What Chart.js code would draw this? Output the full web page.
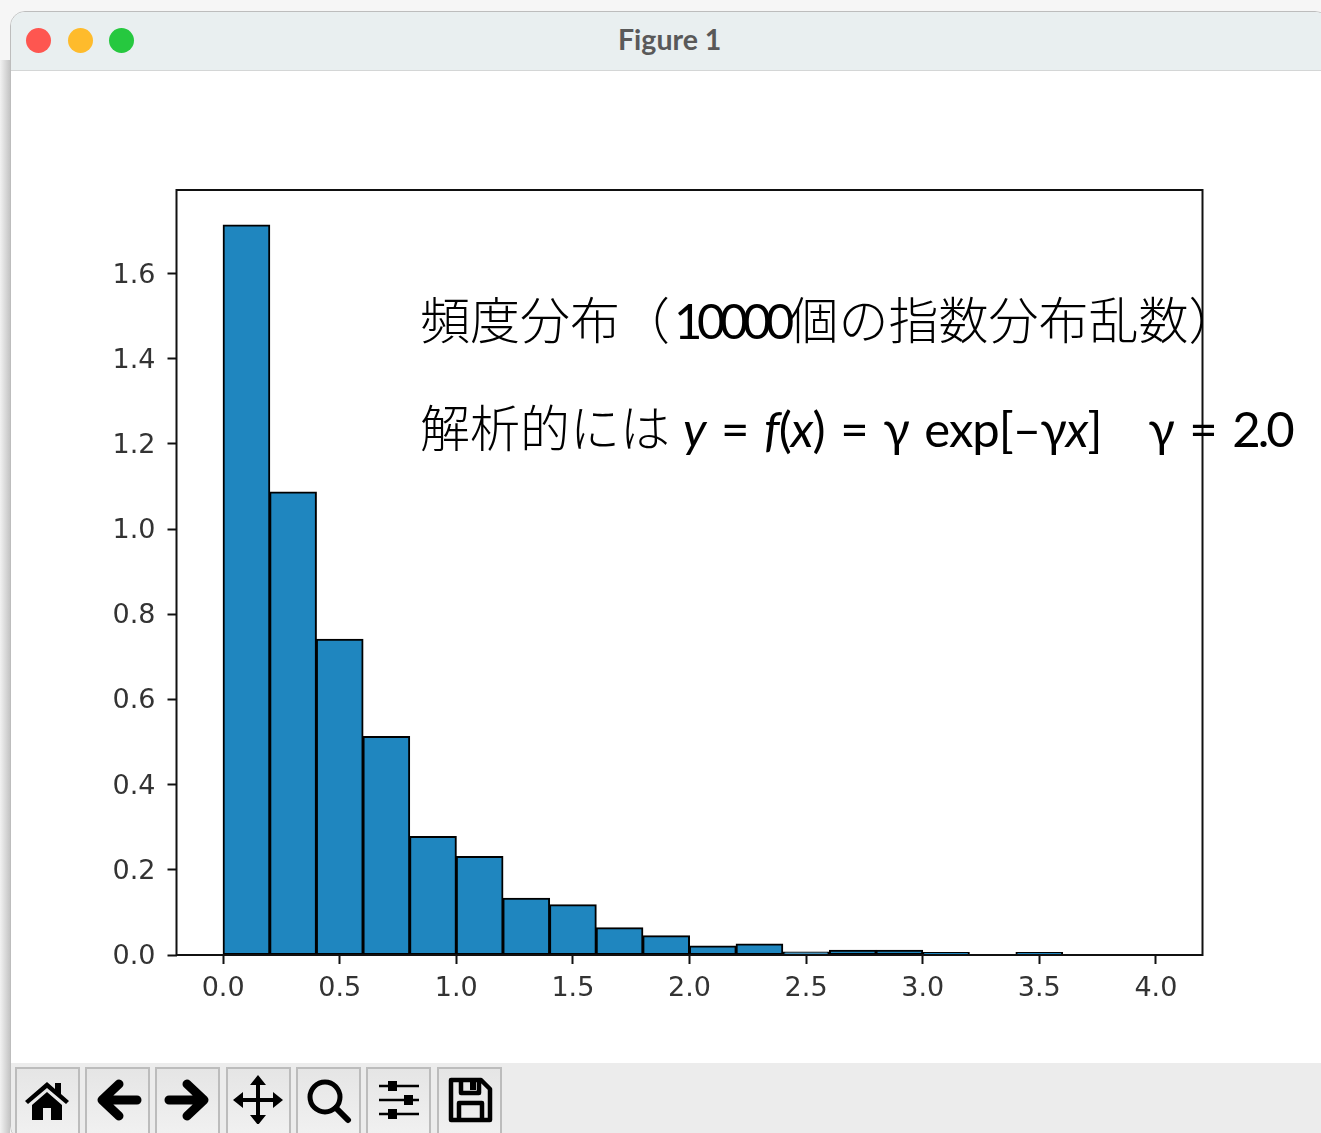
<!DOCTYPE html>
<html lang="ja">
<head>
<meta charset="utf-8">
<title>Figure 1</title>
<script src="https://cdn.jsdelivr.net/npm/chart.js@4"></script>
<style>
html, body { margin: 0; padding: 0; width: 1321px; height: 1133px; overflow: hidden; background: #f6f6f6; }
.shade { position: absolute; left: 0; top: 60px; width: 10px; height: 1073px; background: linear-gradient(to right, #f2f2f2, #c4c4c4); }
.window { position: absolute; left: 10px; top: 11px; width: 1320px; height: 1130px; background: #fff; border: 1px solid #bdbdbd; border-radius: 15px; box-sizing: border-box; overflow: hidden; }
.titlebar { position: absolute; left: 0; top: 0; right: 0; height: 58px; background: #e9eff0; border-bottom: 1px solid #d4d6d6; }
.light { position: absolute; top: 16px; width: 25px; height: 25px; border-radius: 50%; }
.title { position: absolute; left: 607px; top: 10px; font: bold 28.5px Lato, sans-serif; color: #595959; }
.toolbar { position: absolute; left: 0; top: 1051px; right: 0; height: 80px; background: #ececec; }
.btn { position: absolute; top: 4px; width: 65px; height: 70px; box-sizing: border-box; border: 2px solid #bcbcbc; background: linear-gradient(#e5e5e5, #f1f1f1); }
.btn svg { position: absolute; left: 5px; top: 5px; width: 50px; height: 50px; }
canvas { position: absolute; left: 10px; top: 70px; filter: blur(0.7px); }
.note { position: absolute; left: 420px; white-space: pre; color: #000; font-size: 50px; line-height: 60px; font-family: "Noto Sans CJK JP", sans-serif; font-weight: 300; }
.note .lat { font-family: Lato, sans-serif; font-size: 49px; font-weight: 400; letter-spacing: -1px; word-spacing: 4px; }
</style>
</head>
<body>
<div class="shade"></div>
<div class="window">
  <div class="titlebar">
    <div class="light" style="left:15px;background:#fe5650"></div>
    <div class="light" style="left:57px;background:#febb2c"></div>
    <div class="light" style="left:98px;background:#26c83f"></div>
    <div class="title">Figure 1</div>
  </div>
  <div class="toolbar">
    <div class="btn" style="left:4px"><svg viewBox="0 0 50 50"><path d="M3 27 L25 8 L33 15 V9 H39 V20 L47 27 L44 30 L25 14 L6 30Z M10 31 L25 18 L40 31 V46 H29 V34 H21 V46 H10Z" fill="#000"/></svg></div>
    <div class="btn" style="left:74px"><svg viewBox="0 0 50 50"><path d="M27 10 L10 26 L27 42 M12 26 H45" fill="none" stroke="#000" stroke-width="9" stroke-linecap="round" stroke-linejoin="round"/></svg></div>
    <div class="btn" style="left:144px"><svg viewBox="0 0 50 50"><path d="M25 10 L42 26 L25 42 M40 26 H7" fill="none" stroke="#000" stroke-width="9" stroke-linecap="round" stroke-linejoin="round"/></svg></div>
    <div class="btn" style="left:215px"><svg viewBox="0 0 50 50"><path d="M25 4 V48 M3 26 H47" stroke="#000" stroke-width="4"/><path d="M25 1 L33 11 H17Z M25 51 L33 41 H17Z M0 26 L10 18 V34Z M50 26 L40 18 V34Z" fill="#000"/></svg></div>
    <div class="btn" style="left:285px"><svg viewBox="0 0 50 50"><circle cx="22" cy="23" r="15" fill="none" stroke="#000" stroke-width="5"/><path d="M33 34 L45 46" stroke="#000" stroke-width="6" stroke-linecap="round"/></svg></div>
    <div class="btn" style="left:355px"><svg viewBox="0 0 50 50"><path d="M6 12 H46 M6 26 H46 M6 40 H46" stroke="#000" stroke-width="2.5"/><rect x="15" y="7" width="9" height="10" fill="#000"/><rect x="31" y="21" width="9" height="10" fill="#000"/><rect x="15" y="35" width="9" height="10" fill="#000"/></svg></div>
    <div class="btn" style="left:426px"><svg viewBox="0 0 50 50"><path d="M7 6 H37 L46 15 V46 H7Z M17 6 V19 H35 V6 M15 46 V29 H38 V46" fill="none" stroke="#000" stroke-width="4.5" stroke-linejoin="round"/><rect x="26" y="7" width="6" height="9" fill="#000"/></svg></div>
  </div>
</div>
<canvas id="histChart" width="1311" height="1003"></canvas>
<div class="note" style="top:287px">頻度分布（<span class="lat" style="letter-spacing:-5.5px;margin-left:4px">10000</span>個の指数分布乱数）</div>
<div class="note" style="top:395px">解析的には<span class="lat" style="margin-left:13px"><i>y</i> = <i>f</i>(<i>x</i>) = γ exp[–γ<i>x</i>]   γ = <span style="letter-spacing:-3px">2.0</span></span></div>
<script>
// bin centres (width 0.2) and densities
const binCenters = [0.1, 0.3, 0.5, 0.7, 0.9, 1.1, 1.3, 1.5, 1.7, 1.9, 2.1, 2.3, 2.5, 2.7, 2.9, 3.1, 3.3, 3.5, 3.7, 3.9];
const densities = [1.714, 1.087, 0.741, 0.513, 0.278, 0.231, 0.133, 0.118, 0.064, 0.045, 0.021, 0.026, 0.007, 0.011, 0.011, 0.006, 0.0005, 0.006, 0.001, 0.001];
const xTicks = [0, 0.5, 1, 1.5, 2, 2.5, 3, 3.5, 4];
const yTicks = [0, 0.2, 0.4, 0.6, 0.8, 1, 1.2, 1.4, 1.6];

const tickFont = { family: 'DejaVu Sans', size: 27 };
const frame = {
    id: 'frame',
    afterDraw(chart) {
        const a = chart.chartArea;
        const ctx = chart.ctx;
        ctx.save();
        ctx.strokeStyle = '#111';
        ctx.lineWidth = 2;
        ctx.strokeRect(a.left, a.top, a.right - a.left, a.bottom - a.top);
        ctx.restore();
    }
};

new Chart(document.getElementById('histChart').getContext('2d'), {
    type: 'bar',
    data: {
        datasets: [{
            data: binCenters.map((c, i) => ({ x: c, y: densities[i] })),
            backgroundColor: '#1f86bf',
            borderColor: '#000',
            borderWidth: 2,
            borderSkipped: false,
            inflateAmount: 0.5,
            barPercentage: 1,
            categoryPercentage: 1
        }]
    },
    plugins: [frame],
    options: {
        responsive: false,
        animation: false,
        layout: { padding: { top: 120, right: 118.5, left: 0, bottom: 0 } },
        plugins: { legend: { display: false }, tooltip: { enabled: false } },
        scales: {
            x: {
                type: 'linear',
                min: -0.2,
                max: 4.2,
                offset: false,
                afterBuildTicks: s => { s.ticks = xTicks.map(v => ({ value: v })); },
                afterFit: s => { s.height = 118; },
                grid: { offset: false, drawOnChartArea: false, tickLength: 9, tickWidth: 2, tickColor: '#111' },
                border: { display: false },
                ticks: { font: tickFont, color: '#333', padding: 9, maxRotation: 0, autoSkip: false, callback: v => v.toFixed(1) }
            },
            y: {
                min: 0,
                max: 1.796,
                afterBuildTicks: s => { s.ticks = yTicks.map(v => ({ value: v })); },
                afterFit: s => { s.width = 166.5; },
                grid: { drawOnChartArea: false, tickLength: 9, tickWidth: 2, tickColor: '#111' },
                border: { display: false },
                ticks: { font: tickFont, color: '#333', padding: 12, labelOffset: 2, autoSkip: false, callback: v => v.toFixed(1) }
            }
        }
    }
});
</script>
</body>
</html>
